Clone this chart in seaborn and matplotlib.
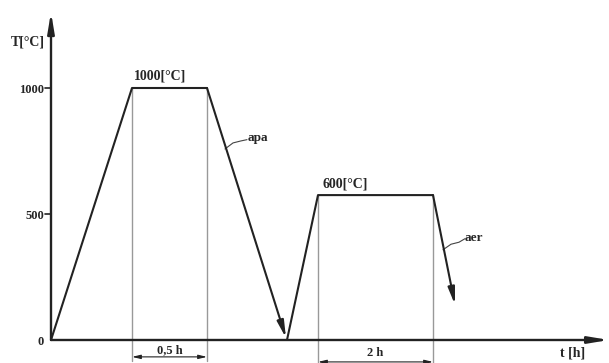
import matplotlib
matplotlib.use("Agg")
import matplotlib.pyplot as plt
import seaborn as sns
import pandas as pd

# heat treatment cycle (schematic time units, temperature in deg C)
cycle_t = [0, 81, 156, 235, 267, 382, 404]
cycle_T = [0, 1000, 1000, 8, 575, 575, 140]
hold_labels = ["1000[°C]", "600[°C]"]
hold_spans = [(81, 156), (267, 382)]
hold_texts = ["0,5 h", "2 h"]
y_ticks = [0, 500, 1000]
medium_labels = ["apa", "aer"]

sns.set_style("white")
plt.rcParams["font.family"] = ["Liberation Serif", "DejaVu Serif"]
plt.rcParams["font.weight"] = "bold"

fig = plt.figure(figsize=(6.09, 3.63), dpi=100)
ax = fig.add_axes([0, 0, 1, 1])
ax.set_xlim(-51, 558)
ax.set_ylim(-91.3, 1349.2)
ax.axis("off")

# heating + holding parts
df = pd.DataFrame({"t": cycle_t[:3], "T": cycle_T[:3]})
sns.lineplot(data=df, x="t", y="T", sort=False, color="#222222", lw=1.5, ax=ax)
df2 = pd.DataFrame({"t": [cycle_t[3] + 1] + cycle_t[4:6], "T": [0] + cycle_T[4:6]})
sns.lineplot(data=df2, x="t", y="T", sort=False, color="#222222", lw=1.5, ax=ax)

# cooling segments with arrowheads
arr = dict(arrowstyle="-|>,head_length=1.0,head_width=0.2", color="#222222", lw=1.5,
           shrinkA=0, shrinkB=0)
ax.annotate("", xy=(cycle_t[3], cycle_T[3]), xytext=(cycle_t[2], cycle_T[2]), arrowprops=arr)
ax.annotate("", xy=(cycle_t[6], cycle_T[6]), xytext=(cycle_t[5], cycle_T[5]), arrowprops=arr)

# axes with arrows
ax_arr = dict(arrowstyle="-|>,head_length=1.2,head_width=0.2", color="#222222", lw=1.7,
              shrinkA=0, shrinkB=0)
ax.annotate("", xy=(0, 1301), xytext=(0, 0), arrowprops=ax_arr)
ax.annotate("", xy=(558, 0), xytext=(0, 0), arrowprops=ax_arr)

for v in y_ticks[1:]:
    ax.plot([-6, 0], [v, v], color="#222222", lw=1.2)
for v in y_ticks:
    ax.text(-7, v - 6, str(v), ha="right", va="center", fontsize=9)
ax.text(-23, 1181, "T[°C]", ha="center", va="center", fontsize=10)
ax.text(522, -50, "t [h]", ha="center", va="center", fontsize=10)

# holding guide lines and dimension arrows
dim = dict(arrowstyle="<|-|>,head_length=0.5,head_width=0.12", color="#222222", lw=0.8,
           shrinkA=0, shrinkB=0)
for (a, b), lab, top, ty, dy, bot in zip(hold_spans, hold_texts, [1000, 575],
                                         [-40, -50], [-67, -87], [-85, -92]):
    for x in (a, b):
        ax.plot([x, x], [top, bot], color="#999999", lw=1.0, zorder=0)
    ax.annotate("", xy=(a, dy), xytext=(b, dy), arrowprops=dim)
    ax.text((a + b) / 2, ty, lab, ha="center", va="center", fontsize=9)

ax.text(109, 1046, hold_labels[0], ha="center", va="center", fontsize=10)
ax.text(294, 620, hold_labels[1], ha="center", va="center", fontsize=10)

# cooling medium labels with leader lines
ax.plot([174, 182, 190, 196], [758, 782, 790, 795], color="#444444", lw=0.8)
ax.text(197, 800, medium_labels[0], ha="left", va="center", fontsize=9.5)
ax.plot([392, 400, 408, 414], [358, 380, 388, 402], color="#444444", lw=0.8)
ax.text(414, 405, medium_labels[1], ha="left", va="center", fontsize=9.5)

fig.savefig("out.png", dpi=100)
